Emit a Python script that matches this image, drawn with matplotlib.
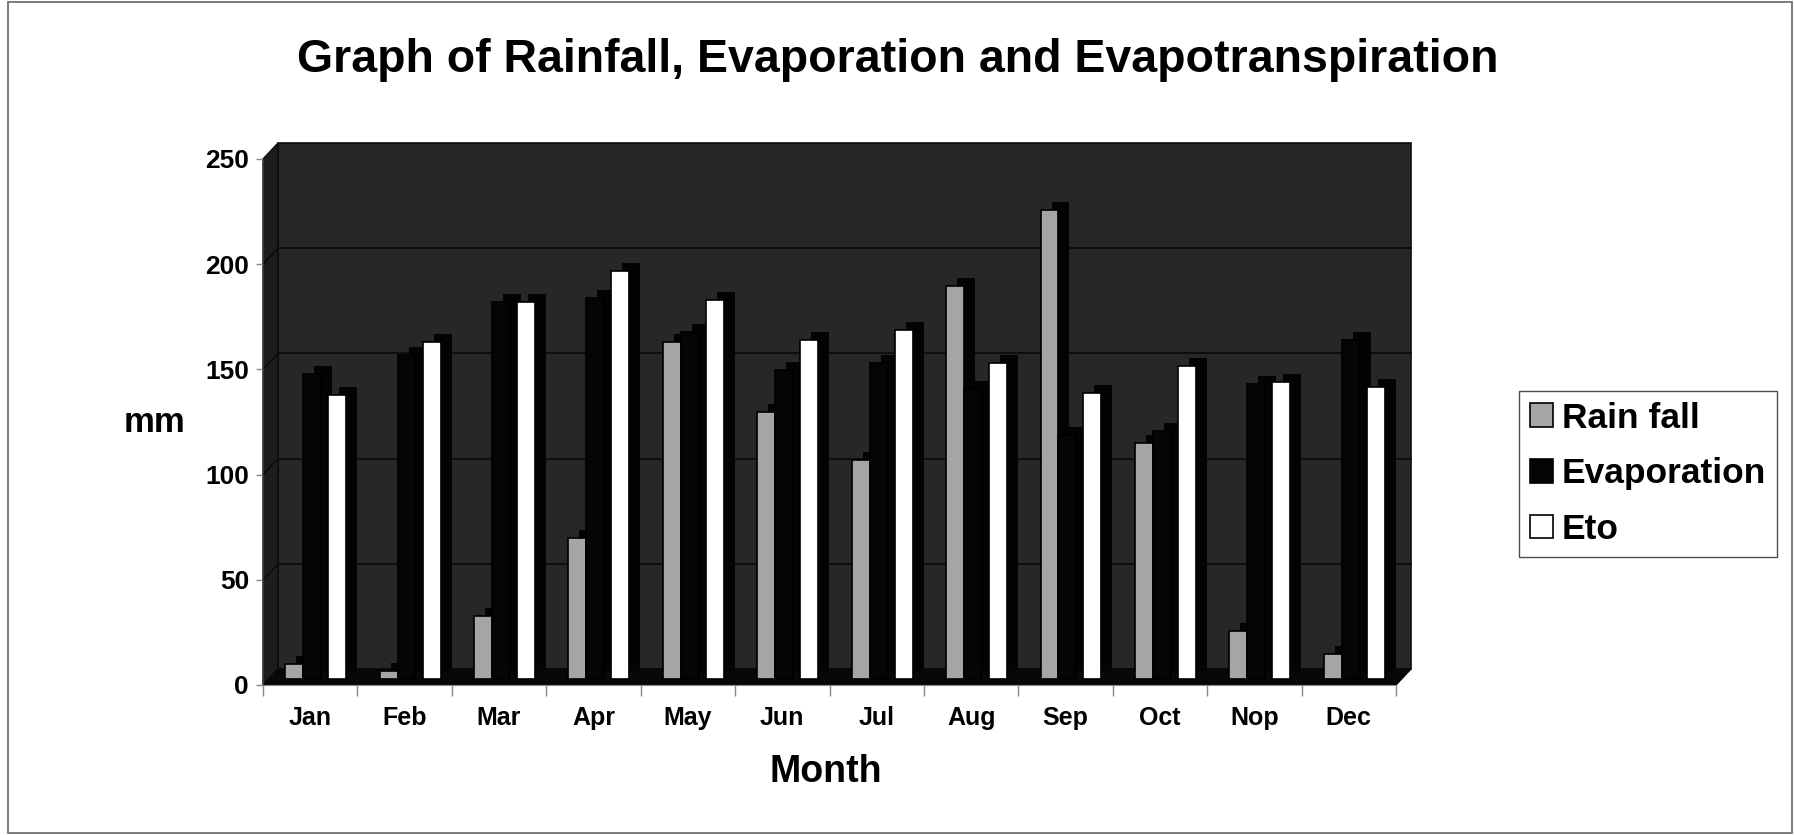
import matplotlib
matplotlib.use('Agg')
import matplotlib.pyplot as plt
from matplotlib.transforms import ScaledTranslation
from matplotlib.patches import Rectangle, Polygon, Patch
import numpy as np

# ---- data ----
months = ['Jan', 'Feb', 'Mar', 'Apr', 'May', 'Jun', 'Jul', 'Aug', 'Sep', 'Oct', 'Nop', 'Dec']
rain_fall = [7, 4, 30, 67, 160, 127, 104, 187, 223, 112, 23, 12]
evaporation = [145, 154, 179, 181, 165, 147, 150, 138, 116, 118, 140, 161]
eto = [135, 160, 179, 194, 180, 161, 166, 150, 136, 149, 141, 139]
yticks = [0, 50, 100, 150, 200, 250]
series_names = ['Rain fall', 'Evaporation', 'Eto']
title = 'Graph of Rainfall, Evaporation and Evapotranspiration'

plt.rcParams['font.family'] = ['Liberation Sans', 'DejaVu Sans']

W, H = 1794, 835
fig = plt.figure(figsize=(W / 100, H / 100), dpi=100)
L, R, T, B = 263, 1396, 159, 685
ax = fig.add_axes([L / W, 1 - B / H, (R - L) / W, (B - T) / H])
ax.set_facecolor('none')
for s in ax.spines.values():
    s.set_visible(False)

DX, DY = 15, 16
px = lambda a, b: ScaledTranslation(a / 100, b / 100, fig.dpi_scale_trans)
wall_off = px(DX, DY)

# back wall
ax.add_patch(Rectangle((0, 0), 1, 1, transform=ax.transAxes + wall_off,
                       facecolor='#272727', edgecolor='#0e0e0e', lw=1.2,
                       zorder=0, clip_on=False))
# gridlines on back wall
for v in yticks[1:-1]:
    ax.plot([0, 1], [v, v], transform=ax.get_yaxis_transform() + wall_off,
            color='#0c0c0c', lw=1.3, zorder=0.5, clip_on=False)

dxa = DX / (R - L)
dya = DY / (B - T)
# side wall
ax.add_patch(Polygon([(0, 0), (dxa, dya), (dxa, 1 + dya), (0, 1)], closed=True,
                     transform=ax.transAxes, facecolor='#1d1d1d',
                     edgecolor='#0a0a0a', lw=1, zorder=0.6, clip_on=False))
# side wall gridlines
ppu = (B - T) / 250.0
for v in yticks[1:-1]:
    ax.plot([0, dxa], [v, v + DY / ppu], transform=ax.get_yaxis_transform(),
            color='#0c0c0c', lw=1.2, zorder=0.7, clip_on=False)
# floor
ax.add_patch(Polygon([(0, 0), (1, 0), (1 + dxa, dya), (dxa, dya)], closed=True,
                     transform=ax.transAxes, facecolor='#080808',
                     edgecolor='#080808', lw=1, zorder=0.6, clip_on=False))

# bars
x = np.arange(len(months))
mid = ax.transData + px(0, 6)
depth = mid + px(11, 8)
styles = [(rain_fall, -0.17, '#a5a5a5'), (evaporation, 0.02, '#050505'), (eto, 0.285, '#ffffff')]
for k, (vals, off, col) in enumerate(styles):
    ax.bar(x + off, vals, width=0.19, color='#030303', transform=depth,
           zorder=2 + 2 * k, clip_on=False)
    ax.bar(x + off, vals, width=0.19, color=col, edgecolor='#000000', lw=1.2,
           transform=mid, zorder=3 + 2 * k, clip_on=False)

ax.set_xlim(-0.5, len(months) - 0.5)
ax.set_ylim(0, 250)

# axes lines
ax.spines['bottom'].set_visible(True)
ax.spines['bottom'].set_color('#8a8a8a')
ax.spines['left'].set_visible(True)
ax.spines['left'].set_color('#333333')

ax.set_yticks(yticks)
ax.set_yticklabels([str(v) for v in yticks], fontsize=19, fontweight='bold')
ax.tick_params(axis='y', length=5, width=1, color='#888888', pad=5)

ax.set_xticks(x)
ax.set_xticklabels(months, fontsize=18, fontweight='bold')
ax.tick_params(axis='x', which='major', length=0, pad=15)
ax.set_xticks(np.arange(-0.5, len(months), 1), minor=True)
ax.tick_params(axis='x', which='minor', length=8, width=1, color='#888888')

# texts
fig.text(898 / W, 1 - 60 / H, title, ha='center', va='center',
         fontsize=33.5, fontweight='bold')
fig.text(154 / W, 1 - 423 / H, 'mm', ha='center', va='center',
         fontsize=25, fontweight='bold')
fig.text(826 / W, 1 - 772 / H, 'Month', ha='center', va='center',
         fontsize=27, fontweight='bold')

# legend
handles = [Patch(facecolor='#a5a5a5', edgecolor='black', lw=1.2),
           Patch(facecolor='#050505', edgecolor='black', lw=1.2),
           Patch(facecolor='white', edgecolor='black', lw=1.2)]
leg = fig.legend(handles, series_names, loc='upper left',
                 bbox_to_anchor=(1519 / W, 1 - 391 / H), frameon=True,
                 fancybox=False, edgecolor='#222222',
                 prop={'size': 25.5, 'weight': 'bold'},
                 handlelength=0.65, handleheight=0.65, handletextpad=0.25,
                 labelspacing=0.64, borderpad=0.3, borderaxespad=0)
leg.get_frame().set_linewidth(1.0)

# outer border
fig.add_artist(Rectangle((8 / W, 2 / H), 1784 / W, 831 / H, transform=fig.transFigure,
                         fill=False, edgecolor='#666666', lw=1.2))

fig.savefig('out.png', dpi=100)
